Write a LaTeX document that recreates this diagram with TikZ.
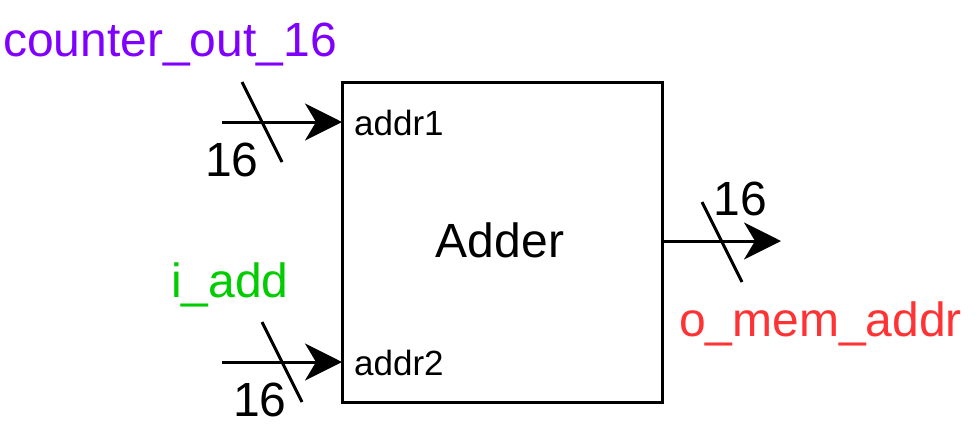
\documentclass[tikz,border=0pt]{standalone}
\usepackage{fontspec}
\setmainfont{Liberation Sans}
\usetikzlibrary{arrows.meta}
\definecolor{cpurple}{HTML}{7F00FF}
\definecolor{cgreen}{HTML}{00CC00}
\definecolor{cred}{HTML}{FF3333}
\tikzset{
  bus/.style={line width=3pt, -{Stealth[length=37pt,width=37pt,inset=11pt]}},
  slash/.style={line width=3pt},
  biglabel/.style={font=\fontsize{48}{52}\selectfont, inner sep=0pt, anchor=base},
  portlabel/.style={font=\fontsize{35}{38}\selectfont, inner sep=0pt, anchor=base west},
}
\begin{document}
\begin{tikzpicture}[x=1pt,y=-1pt]
\useasboundingbox (0,0) rectangle (980,440);
% box
\node[draw, line width=3pt, minimum width=320pt, minimum height=320pt, inner sep=0pt] (adder) at (502,242) {};
\node[biglabel, anchor=center] (adderlbl) at (500,240) {Adder};
\node[portlabel] (p1) at (354,135) {addr1};
\node[portlabel] (p2) at (354,375) {addr2};
% input 1
\coordinate (in1) at (222,122);
\coordinate (a1) at (342,122);
\draw[bus] (in1) -- (a1);
\coordinate (s1a) at (242,82);
\coordinate (s1b) at (282,162);
\draw[slash] (s1a) -- (s1b);
\node[biglabel] (w1) at (232,176) {16};
\node[biglabel, text=cpurple] (n1) at (170,56) {counter\_out\_16};
% input 2
\coordinate (in2) at (222,362);
\coordinate (a2) at (342,362);
\draw[bus] (in2) -- (a2);
\coordinate (s2a) at (262,322);
\coordinate (s2b) at (302,402);
\draw[slash] (s2a) -- (s2b);
\node[biglabel] (w2) at (260,416) {16};
\node[biglabel, text=cgreen] (n2) at (230,297) {i\_add};
% output
\coordinate (o0) at (662,241);
\coordinate (o1) at (781,241);
\draw[bus] (o0) -- (o1);
\coordinate (s3a) at (702,202);
\coordinate (s3b) at (742,282);
\draw[slash] (s3a) -- (s3b);
\node[biglabel] (w3) at (740,215) {16};
\node[biglabel, anchor=base west, text=cred] (n3) at (679,336) {o\_mem\_addr};
\end{tikzpicture}
\end{document}
